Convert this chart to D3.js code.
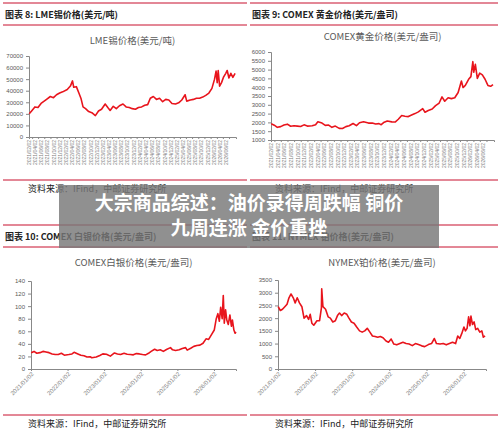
<!DOCTYPE html>
<html><head><meta charset="utf-8">
<script src="https://cdn.jsdelivr.net/npm/d3@7"></script>
<style>body{margin:0;background:#fff}svg{display:block}</style>
</head><body>
<script>
const tin = [["2021-01-04",20000],["2021-02-01",23000],["2021-03-01",26000],["2021-04-01",25500],["2021-05-01",29000],["2021-06-01",31000],["2021-07-01",33000],["2021-08-01",35000],["2021-09-01",34000],["2021-10-01",36500],["2021-11-01",38000],["2021-12-01",39000],["2022-01-15",41000],["2022-02-15",44000],["2022-03-08",48500],["2022-03-20",43000],["2022-04-15",43500],["2022-05-10",38000],["2022-06-01",33000],["2022-06-20",26000],["2022-07-15",24500],["2022-08-15",22000],["2022-09-15",21000],["2022-10-20",18500],["2022-11-20",22500],["2022-12-20",24000],["2023-01-25",28500],["2023-02-20",25500],["2023-03-15",23000],["2023-04-15",26500],["2023-05-15",24500],["2023-06-15",27000],["2023-07-20",28500],["2023-08-20",26000],["2023-09-20",25500],["2023-10-20",24500],["2023-11-20",24000],["2023-12-20",25500],["2024-01-20",26000],["2024-02-20",27500],["2024-03-20",28000],["2024-04-15",33500],["2024-05-15",35000],["2024-06-15",32500],["2024-07-15",33500],["2024-08-15",30500],["2024-09-15",32500],["2024-10-15",32000],["2024-11-15",29000],["2024-12-20",28500],["2025-01-20",29500],["2025-02-20",32000],["2025-03-25",36500],["2025-04-10",31000],["2025-05-15",32000],["2025-06-15",32500],["2025-07-15",33500],["2025-08-15",33500],["2025-09-15",34500],["2025-10-15",36000],["2025-11-15",38000],["2025-12-15",42000],["2026-01-10",50000],["2026-01-25",57000],["2026-02-05",47000],["2026-02-15",57500],["2026-03-01",44000],["2026-03-20",47000],["2026-04-10",52000],["2026-05-01",55000],["2026-05-15",57500],["2026-06-01",51000],["2026-06-20",55000],["2026-07-10",51500],["2026-08-01",55000]];
const gold = [["2021-01-04",1920],["2021-02-01",1840],["2021-03-01",1720],["2021-04-01",1760],["2021-05-01",1850],["2021-06-01",1900],["2021-07-01",1780],["2021-08-01",1810],["2021-09-01",1790],["2021-10-01",1770],["2021-11-01",1860],["2021-12-01",1790],["2022-01-15",1810],["2022-02-15",1870],["2022-03-08",2040],["2022-04-15",1960],["2022-05-15",1830],["2022-06-15",1850],["2022-07-15",1720],["2022-08-15",1790],["2022-09-20",1660],["2022-10-20",1650],["2022-11-20",1760],["2022-12-20",1810],["2023-01-25",1940],["2023-02-25",1820],["2023-03-25",1980],["2023-05-01",2040],["2023-06-15",1960],["2023-07-20",1970],["2023-08-20",1910],["2023-09-20",1930],["2023-10-10",1870],["2023-11-01",1990],["2023-12-05",2080],["2024-01-15",2030],["2024-02-15",2020],["2024-03-15",2180],["2024-04-15",2390],["2024-05-15",2350],["2024-06-15",2330],["2024-07-15",2420],["2024-08-15",2500],["2024-09-15",2600],["2024-10-25",2780],["2024-11-15",2580],["2024-12-15",2680],["2025-01-20",2760],["2025-02-20",2950],["2025-03-25",3100],["2025-04-20",3450],["2025-05-15",3200],["2025-06-15",3400],["2025-07-15",3350],["2025-08-15",3400],["2025-09-15",3700],["2025-10-15",4350],["2025-10-30",3980],["2025-11-20",4100],["2025-12-20",4450],["2026-01-10",4600],["2026-01-28",5450],["2026-02-05",4850],["2026-02-20",5300],["2026-03-10",4500],["2026-04-01",4800],["2026-04-25",4700],["2026-05-20",4450],["2026-06-15",4100],["2026-07-10",4050],["2026-08-01",4150]];
const silver = [["2021-01-04",26],["2021-02-01",28],["2021-03-01",25],["2021-04-01",26],["2021-05-01",28],["2021-06-01",27],["2021-07-01",26],["2021-08-01",24],["2021-09-01",23],["2021-10-01",23],["2021-11-01",25],["2021-12-01",22],["2022-01-15",23],["2022-02-15",24],["2022-03-08",26.5],["2022-04-15",24],["2022-05-15",22],["2022-06-15",21],["2022-07-15",19],["2022-08-15",19.5],["2022-09-01",18],["2022-10-15",19],["2022-11-20",21.5],["2022-12-20",24],["2023-01-25",23.5],["2023-03-05",20.5],["2023-04-15",25.5],["2023-05-15",24],["2023-06-15",23],["2023-07-20",25],["2023-08-20",23.5],["2023-09-20",23],["2023-10-20",22.5],["2023-11-20",24.5],["2023-12-20",24],["2024-01-20",23],["2024-02-20",22.5],["2024-03-20",25],["2024-04-15",28],["2024-05-20",31.5],["2024-06-15",29.5],["2024-07-15",30.5],["2024-08-15",28],["2024-09-15",31],["2024-10-25",34],["2024-11-15",30.5],["2024-12-15",29.5],["2025-01-20",30.5],["2025-02-20",32.5],["2025-03-25",34],["2025-04-10",30],["2025-05-15",33],["2025-06-15",36],["2025-07-15",37.5],["2025-08-15",38],["2025-09-15",41],["2025-10-15",48],["2025-11-10",47],["2025-12-10",55],["2026-01-05",62],["2026-01-25",80],["2026-02-10",88],["2026-02-25",76],["2026-03-10",98],["2026-03-25",80],["2026-04-05",117],["2026-04-15",73],["2026-04-28",94],["2026-05-10",78],["2026-05-25",71],["2026-06-10",86],["2026-06-25",68],["2026-07-05",78],["2026-07-20",62],["2026-08-01",57],["2026-08-10",59]];
const platinum = [["2021-01-04",2450],["2021-01-25",2300],["2021-02-15",2350],["2021-03-10",2450],["2021-04-01",2550],["2021-04-20",2800],["2021-05-10",2950],["2021-06-01",2800],["2021-06-20",2600],["2021-07-10",2800],["2021-08-01",2600],["2021-08-25",2450],["2021-09-15",2000],["2021-10-10",2100],["2021-10-30",1950],["2021-11-15",2150],["2021-12-01",1800],["2021-12-20",1720],["2022-01-20",1900],["2022-02-15",1900],["2022-03-05",2400],["2022-03-08",3150],["2022-03-20",2450],["2022-04-15",2350],["2022-05-10",2050],["2022-06-01",2000],["2022-06-25",1850],["2022-07-20",1900],["2022-08-10",2100],["2022-08-30",2200],["2022-09-20",2100],["2022-10-15",2200],["2022-11-10",2150],["2022-12-01",2000],["2022-12-25",1850],["2023-01-20",1800],["2023-02-15",1650],["2023-03-15",1500],["2023-04-10",1450],["2023-05-05",1500],["2023-05-30",1600],["2023-06-25",1450],["2023-07-20",1300],["2023-08-15",1280],["2023-09-10",1250],["2023-10-05",1280],["2023-11-01",1230],["2023-12-01",1100],["2023-12-25",1050],["2024-01-20",1180],["2024-02-15",980],["2024-03-15",950],["2024-04-15",1000],["2024-05-15",1050],["2024-06-15",1000],["2024-07-15",980],["2024-08-15",920],["2024-09-15",1000],["2024-10-15",960],["2024-11-15",910],["2024-12-15",880],["2025-01-20",960],["2025-02-20",1000],["2025-03-20",1200],["2025-04-10",1000],["2025-05-15",980],["2025-06-15",1000],["2025-07-15",950],["2025-08-15",1000],["2025-09-15",1050],["2025-10-15",1000],["2025-11-05",1300],["2025-11-25",1200],["2025-12-15",1400],["2026-01-05",1650],["2026-01-20",1500],["2026-02-05",1600],["2026-02-20",2050],["2026-03-05",1700],["2026-03-15",2080],["2026-03-30",1750],["2026-04-15",1850],["2026-05-01",1550],["2026-05-20",1600],["2026-06-10",1450],["2026-06-30",1500],["2026-07-15",1250],["2026-08-01",1300]];

const tinTicks = [0,10000,20000,30000,40000,50000,60000,70000];
const goldTicks = [1000,1500,2000,2500,3000,3500,4000,4500,5000,5500,6000];
const silverTicks = [0,20,40,60,80,100,120,140];
const platTicks = [0,500,1000,1500,2000,2500,3000,3500];
const headers = ["图表 8: LME锡价格(美元/吨)","图表 9: COMEX 黄金价格(美元/盎司)","图表 10: COMEX 白银价格(美元/盎司)","图表 11: NYMEX 铂价格(美元/盎司)"];
const titles = ["LME锡价格(美元/吨)","COMEX黄金价格(美元/盎司)","COMEX白银价格(美元/盎司)","NYMEX铂价格(美元/盎司)"];
const source = "资料来源：IFind，中邮证券研究所";
const banner = ["大宗商品综述：油价录得周跌幅 铜价","九周连涨 金价重挫"];

const W=500,H=435;
const svg=d3.select("body").append("svg").attr("width",W).attr("height",H);
const red="#c8102e", parse=d3.timeParse("%Y-%m-%d");
const domain=[parse("2021-01-02"),parse("2026-08-10")];
const font="'Noto Sans CJK SC','Noto Sans',sans-serif";

function panel(px,py,pw,data,ticks,header,title,plot,topAxis){
  const g=svg.append("g");
  // header
  g.append("line").attr("x1",px).attr("x2",px+pw).attr("y1",py).attr("y2",py).attr("stroke",red).attr("stroke-width",1.2);
  g.append("text").attr("x",px+2).attr("y",py+15).attr("font-family",font).attr("font-weight","bold").attr("font-size",9).attr("fill","#222").text(header);
  g.append("line").attr("x1",px).attr("x2",px+pw).attr("y1",py+22).attr("y2",py+22).attr("stroke",red).attr("stroke-width",1);
  g.append("text").attr("x",(plot.x0+plot.x1)/2).attr("y",plot.ty).attr("text-anchor","middle").attr("font-family",font).attr("font-size",9.5).attr("fill","#595959").text(title);
  const x=d3.scaleTime().domain(domain).range([plot.x0,plot.x1]);
  const y=d3.scaleLinear().domain([ticks[0],ticks[ticks.length-1]]).range([plot.y1,plot.y0]);
  const ya=g.append("g").attr("transform",`translate(${plot.x0},0)`).call(d3.axisLeft(y).tickValues(ticks).tickSize(3).tickFormat(d3.format("d")));
  ya.selectAll("text").attr("font-size",6).attr("fill","#595959").attr("font-family","Liberation Sans");
  ya.select(".domain").attr("stroke","#888");
  let xt;
  if(topAxis){ xt=d3.timeMonth.range(parse("2021-01-02"),parse("2026-07-03"),2).map(d=>new Date(d.getFullYear(),d.getMonth(),2)); }
  else { xt=d3.range(2021,2027).map(yr=>new Date(yr,0,2)); }
  const xa=g.append("g").attr("transform",`translate(0,${plot.y1})`).call(d3.axisBottom(x).tickValues(xt).tickSize(2).tickFormat(d3.timeFormat("%Y/%m/%d")));
  xa.select(".domain").attr("stroke","#888");
  xa.selectAll("line").attr("stroke","#888");
  ya.selectAll("line").attr("stroke","#888");
  const tx=xa.selectAll("text").attr("font-size",topAxis?5:6).attr("fill","#7f7f7f").attr("font-family","Liberation Sans");
  if(topAxis) tx.attr("transform","rotate(-90)").attr("text-anchor","end").attr("dx","-3").attr("dy","-0.3em").attr("y",0).attr("x",0);
  else tx.attr("transform","rotate(-45)").attr("text-anchor","end").attr("dx","-2").attr("dy","0.3em").attr("y",4).attr("x",0);
  g.append("path").datum(data).attr("fill","none").attr("stroke","#e8141c").attr("stroke-width",1.6).attr("stroke-linejoin","round")
    .attr("d",d3.line().x(d=>x(parse(d[0]))).y(d=>y(d[1])));
  g.append("line").attr("x1",px).attr("x2",px+pw).attr("y1",plot.sy-9).attr("y2",plot.sy-9).attr("stroke",red).attr("stroke-width",1);
  g.append("text").attr("x",px+25).attr("y",plot.sy+3).attr("font-family",font).attr("font-size",9).attr("fill","#222").text(source);
}
panel(3,3,244,tin,tinTicks,headers[0],titles[0],{x0:29,x1:236,y0:56,y1:137,ty:44,sy:189},true);
panel(250,3,248,gold,goldTicks,headers[1],titles[1],{x0:271,x1:494,y0:52,y1:140,ty:40,sy:189},true);
panel(3,225,244,silver,silverTicks,headers[2],titles[2],{x0:31,x1:236,y0:281,y1:369,ty:266,sy:424},false);
panel(250,225,248,platinum,platTicks,headers[3],titles[3],{x0:278,x1:486,y0:280,y1:369,ty:266,sy:424},false);

svg.append("rect").attr("x",59).attr("y",185).attr("width",380).attr("height",63).attr("fill","rgba(120,120,120,0.82)");
banner.forEach((t,i)=>svg.append("text").attr("x",249).attr("y",210+i*25).attr("text-anchor","middle").attr("font-family",font).attr("font-weight","bold").attr("font-size",19).attr("fill","#fff").text(t));
</script>
</body></html>
